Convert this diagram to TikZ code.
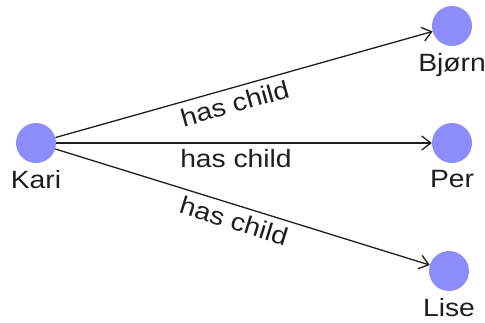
\documentclass[tikz,border=0pt]{standalone}
\usepackage{fontspec}
\setmainfont{Liberation Sans}[FakeStretch=1.13]
\usetikzlibrary{arrows.meta}
\definecolor{nodeblue}{RGB}{140,140,250}
\definecolor{linegray}{RGB}{30,30,30}
\begin{document}
\begin{tikzpicture}[x=1pt,y=-1pt,
  person/.style={circle,fill=nodeblue,minimum size=40pt,inner sep=0pt,
    label={[font=\fontsize{25}{27}\selectfont,text=linegray,label distance=4pt]below:#1}},
  rel/.style={draw=linegray,line width=1.3pt,-{Straight Barb[length=9pt,width=14pt,line width=1.3pt]}},
  lab/.style={font=\fontsize{25}{27}\selectfont,text=linegray,inner sep=6pt}]
\useasboundingbox (0,0) rectangle (485,322);
\node[person=Kari] (kari) at (36,143) {};
\node[person=Bjørn] (bjorn) at (452,26) {};
\node[person=Per] (per) at (452,143) {};
\node[person=Lise] (lise) at (449,271) {};
\draw[rel] (kari) -- node[lab,midway,below,sloped,xshift=-14pt] {has child} (bjorn);
\draw[rel] (kari) -- node[lab,midway,below,xshift=-8pt] {has child} (per);
\draw[rel] (kari) -- node[lab,midway,below,sloped,xshift=-4pt] {has child} (lise);
\end{tikzpicture}
\end{document}
